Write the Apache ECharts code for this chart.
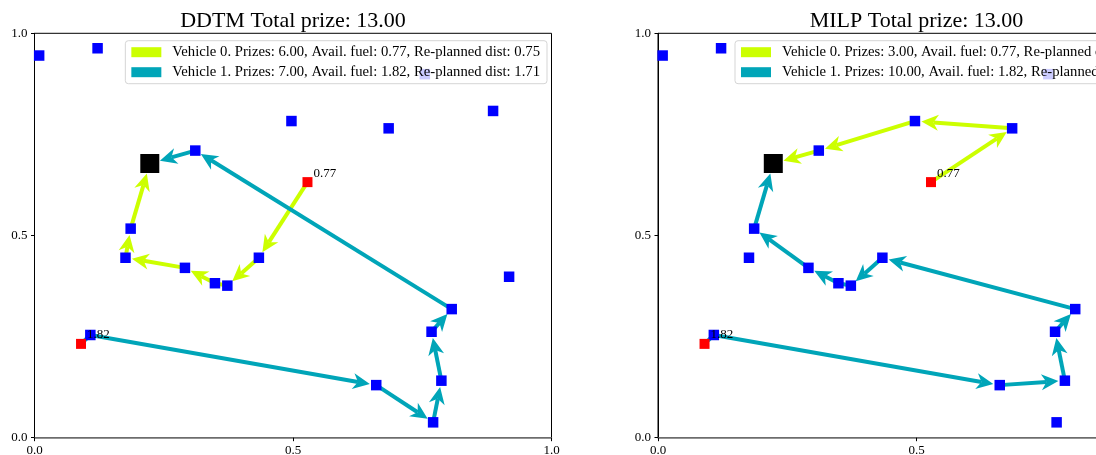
<!DOCTYPE html>
<html><head><meta charset="utf-8">
<script src="https://cdn.jsdelivr.net/npm/echarts@6/dist/echarts.min.js"></script>
<style>html,body{margin:0;padding:0;background:#fff}#c{width:1096px;height:455px}</style>
</head><body><div id="c"></div>
<script>
// ---------- data ----------
const titles = ['DDTM Total prize: 13.00', 'MILP Total prize: 13.00'];
const nodeX = [0.009, 0.122, 0.497, 0.685, 0.887, 0.918, 0.311, 0.186, 0.176, 0.291, 0.349, 0.373, 0.434, 0.807, 0.768, 0.787, 0.771, 0.661, 0.108, 0.755];
const nodeY = [0.945, 0.963, 0.783, 0.765, 0.808, 0.398, 0.710, 0.517, 0.445, 0.420, 0.382, 0.376, 0.445, 0.318, 0.262, 0.141, 0.038, 0.130, 0.254, 0.899];
const depotX = [0.223];
const depotY = [0.678];
const startX = [0.528, 0.090];
const startY = [0.632, 0.232];
const fuelLabels = ['0.77', '1.82'];
const routesDDTM = [[12, 11, 10, 9, 8, 7], [18, 17, 16, 15, 14, 13, 6]];
const routesMILP = [[3, 2, 6], [18, 17, 15, 14, 13, 12, 11, 10, 9, 7]];
const legendDDTM = ['Vehicle 0. Prizes: 6.00, Avail. fuel: 0.77, Re-planned dist: 0.75',
                    'Vehicle 1. Prizes: 7.00, Avail. fuel: 1.82, Re-planned dist: 1.71'];
const legendMILP = ['Vehicle 0. Prizes: 3.00, Avail. fuel: 0.77, Re-planned dist: 0.75',
                    'Vehicle 1. Prizes: 10.00, Avail. fuel: 1.82, Re-planned dist: 1.71'];

// ---------- styling ----------
const vehicleColors = ['#ccff00', '#00a5b8'];
const FONT = "'Liberation Serif', 'Times New Roman', 'DejaVu Serif', serif";
const gridBox = [{left: 34.5, top: 33.3, width: 517, height: 404.4},
                 {left: 658, top: 33.3, width: 517, height: 404.4}];

function segmentsFor(v, route) {
  const pts = [[startX[v], startY[v], 0]];
  route.forEach(i => pts.push([nodeX[i], nodeY[i], 0]));
  pts.push([depotX[0], depotY[0], 1]);
  const segs = [];
  for (let k = 0; k < pts.length - 1; k++) {
    segs.push([pts[k][0], pts[k][1], pts[k + 1][0], pts[k + 1][1], pts[k + 1][2]]);
  }
  return segs;
}

function renderArrow(params, api) {
  const a = api.coord([api.value(0), api.value(1)]);
  const b = api.coord([api.value(2), api.value(3)]);
  const shrink = api.value(4) ? 10.5 : 6.5;
  const dx = b[0] - a[0], dy = b[1] - a[1];
  const L = Math.hypot(dx, dy);
  const ux = dx / L, uy = dy / L;
  const color = api.visual('color');
  const lw = 4;
  const HL = 17, HW = 8, NOTCH = 5;
  if (L - shrink < HL + 6) {
    return {type: 'line', shape: {x1: a[0], y1: a[1], x2: b[0], y2: b[1]},
            style: {stroke: color, lineWidth: lw}};
  }
  const tip = [b[0] - ux * shrink, b[1] - uy * shrink];
  const base = [tip[0] - ux * HL, tip[1] - uy * HL];
  const notch = [tip[0] - ux * (HL - NOTCH), tip[1] - uy * (HL - NOTCH)];
  const nx = -uy, ny = ux;
  return {
    type: 'group',
    children: [
      {type: 'line', shape: {x1: a[0], y1: a[1], x2: notch[0], y2: notch[1]},
       style: {stroke: color, lineWidth: lw}},
      {type: 'polygon', shape: {points: [tip, [base[0] + nx * HW, base[1] + ny * HW], notch, [base[0] - nx * HW, base[1] - ny * HW]]},
       style: {fill: color}}
    ]
  };
}

const xAxes = [], yAxes = [], series = [], legends = [], graphics = [];
const allRoutes = [routesDDTM, routesMILP];
const allLegends = [legendDDTM, legendMILP];

[0, 1].forEach(g => {
  const axisCommon = {
    type: 'value', min: 0, max: 1, interval: 0.5, gridIndex: g,
    splitLine: {show: false},
    axisTick: {show: true, length: 3.5, lineStyle: {color: '#000', width: 1}},
    axisLabel: {fontFamily: FONT, fontSize: 13, color: '#000', formatter: v => v.toFixed(1), showMaxLabel: true, showMinLabel: true}
  };
  xAxes.push(Object.assign({}, axisCommon, {
    position: 'bottom',
    axisLine: {show: true, onZero: false, lineStyle: {color: '#808080', width: 1.5}},
    axisLabel: Object.assign({}, axisCommon.axisLabel, {margin: 6})
  }));
  yAxes.push(Object.assign({}, axisCommon, {
    position: 'left',
    axisLine: {show: true, onZero: false, lineStyle: {color: '#000', width: 1}},
    axisLabel: Object.assign({}, axisCommon.axisLabel, {margin: 7})
  }));

  [0, 1].forEach(v => {
    series.push({
      type: 'custom', name: allLegends[g][v], xAxisIndex: g, yAxisIndex: g,
      coordinateSystem: 'cartesian2d', renderItem: renderArrow,
      itemStyle: {color: vehicleColors[v]},
      encode: {x: [0, 2], y: [1, 3]},
      data: segmentsFor(v, allRoutes[g][v]), z: 2, silent: true
    });
  });
  series.push({
    type: 'scatter', xAxisIndex: g, yAxisIndex: g, symbol: 'rect', symbolSize: 10.5,
    itemStyle: {color: '#0000ff', opacity: 1}, z: 3, silent: true,
    data: nodeX.map((x, i) => [x, nodeY[i]])
  });
  series.push({
    type: 'scatter', xAxisIndex: g, yAxisIndex: g, symbol: 'rect', symbolSize: 19,
    itemStyle: {color: '#000000', opacity: 1}, z: 3, silent: true,
    data: depotX.map((x, i) => [x, depotY[i]])
  });
  series.push({
    type: 'scatter', xAxisIndex: g, yAxisIndex: g, symbol: 'rect', symbolSize: 10,
    itemStyle: {color: '#ff0000', opacity: 1}, z: 4, silent: true,
    label: {show: true, position: 'right', distance: 1, offset: [0, -9],
            formatter: p => fuelLabels[p.dataIndex],
            fontFamily: FONT, fontSize: 13, color: '#000'},
    data: startX.map((x, i) => [x, startY[i]])
  });

  const lg = {
    show: true, orient: 'vertical', top: 40.7,
    selectedMode: false, icon: 'rect', itemWidth: 30, itemHeight: 10, itemGap: 5,
    backgroundColor: 'rgba(255,255,255,0.8)', borderColor: '#d5d5d5', borderWidth: 1, borderRadius: 3,
    padding: [4, 7, 4, 6],
    textStyle: {fontFamily: FONT, fontSize: 14.7, color: '#000', padding: [0, 0, 0, 6]},
    data: allLegends[g].map((n, v) => ({name: n, itemStyle: {color: vehicleColors[v]}})),
    z: 10
  };
  if (g === 0) lg.right = 1096 - 547; else lg.left = 735;
  legends.push(lg);

  graphics.push({
    type: 'text', x: gridBox[g].left + gridBox[g].width / 2, y: 21.5,
    style: {text: titles[g], fontFamily: FONT, fontSize: 22, fill: '#000', textAlign: 'center', textVerticalAlign: 'middle'}
  });
});

const chart = echarts.init(document.getElementById('c'), null, {renderer: 'canvas'});
chart.setOption({
  animation: false,
  backgroundColor: '#fff',
  grid: gridBox.map(b => Object.assign({show: true, borderColor: '#000', borderWidth: 1, backgroundColor: 'transparent',
                                        containLabel: false, outerBoundsMode: 'none'}, b)),
  xAxis: xAxes, yAxis: yAxes, series: series, legend: legends, graphic: graphics
});
</script>
</body></html>
